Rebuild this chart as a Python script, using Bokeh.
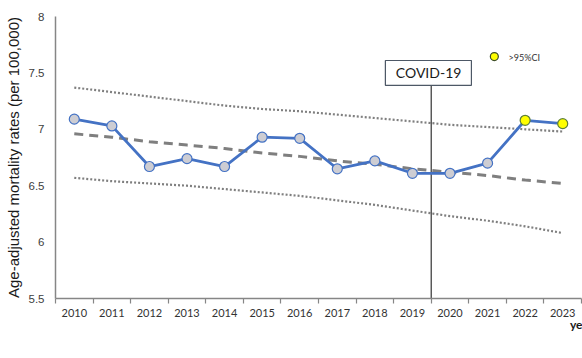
from bokeh.plotting import figure
from bokeh.models import FixedTicker, Legend, LegendItem, Range1d
from bokeh.core.properties import value
from bokeh.embed import file_html
from bokeh.resources import INLINE

# Age-adjusted mortality rate per year with a pre-pandemic trend and prediction band
years = [2010, 2011, 2012, 2013, 2014, 2015, 2016, 2017, 2018, 2019, 2020, 2021, 2022, 2023]
amr = [7.09, 7.03, 6.67, 6.74, 6.67, 6.93, 6.92, 6.65, 6.72, 6.61, 6.61, 6.70, 7.08, 7.05]
predicted = [6.96, 6.93, 6.89, 6.86, 6.83, 6.79, 6.76, 6.72, 6.69, 6.65, 6.62, 6.59, 6.55, 6.52]
upper = [7.37, 7.33, 7.29, 7.25, 7.21, 7.18, 7.16, 7.13, 7.10, 7.07, 7.04, 7.02, 7.00, 6.98]
lower = [6.57, 6.54, 6.52, 6.50, 6.47, 6.44, 6.41, 6.37, 6.33, 6.28, 6.23, 6.19, 6.14, 6.08]
above_ci = [False] * 12 + [True, True]

y_ticks = [5.5, 6, 6.5, 7, 7.5, 8]
y_tick_labels = ["5.5", "6", "6.5", "7", "7.5", "8"]

BLUE = "#4472C4"
GRAY = "#7f7f7f"
LABEL_FONT = "Lato"

p = figure(frame_width=526, frame_height=282, output_backend="svg", toolbar_location=None,
           x_range=Range1d(2009.5, 2023.5), y_range=Range1d(5.5, 8),
           min_border_left=55, min_border_right=1, min_border_top=16,
           min_border_bottom=0)
p.background_fill_color = "white"
p.border_fill_color = "white"
p.outline_line_color = None
p.xgrid.visible = False
p.ygrid.visible = False

# x axis: year labels at category centres, tick marks on category boundaries
p.xaxis.ticker = FixedTicker(ticks=years,
                             minor_ticks=[y - 0.5 for y in years] + [years[-1] + 0.5])
p.xaxis.axis_line_color = "#868686"
p.xaxis.axis_line_width = 1.5
p.xaxis.major_tick_out = 0
p.xaxis.major_tick_in = 0
p.xaxis.minor_tick_out = 5
p.xaxis.minor_tick_in = 0
p.xaxis.minor_tick_line_color = "#868686"
p.xaxis.minor_tick_line_width = 1.2
p.xaxis.major_label_standoff = 5
p.xaxis.major_label_text_font = LABEL_FONT
p.xaxis.major_label_text_font_size = "11px"
p.xaxis.major_label_text_color = "#333333"
p.xaxis.major_label_overrides = {y: str(y) for y in years}
p.xaxis.axis_label = "year"
p.xaxis.axis_label_align = "end"
p.xaxis.axis_label_text_align = "right"
p.xaxis.axis_label_standoff = -3
p.xaxis.axis_label_text_font = LABEL_FONT
p.xaxis.axis_label_text_font_size = "12px"
p.xaxis.axis_label_text_font_style = "bold"
p.xaxis.axis_label_text_color = "#1a1a1a"

# y axis
p.yaxis.ticker = FixedTicker(ticks=y_ticks)
p.yaxis.major_label_overrides = dict(zip(y_ticks, y_tick_labels))
p.yaxis.axis_line_color = "#868686"
p.yaxis.axis_line_width = 1.5
p.yaxis.major_tick_out = 0
p.yaxis.major_tick_in = 0
p.yaxis.minor_tick_line_color = None
p.yaxis.major_label_standoff = 11
p.yaxis.major_label_text_font = "Liberation Sans"
p.yaxis.major_label_text_font_size = "11.5px"
p.yaxis.major_label_text_color = "#404040"
p.yaxis.axis_label = "Age-adjusted mortality rates (per 100,000)"
p.yaxis.axis_label_text_font = "Liberation Sans"
p.yaxis.axis_label_text_font_size = "15px"
p.yaxis.axis_label_text_font_style = "normal"
p.yaxis.axis_label_text_color = "#1a1a1a"
p.yaxis.axis_label_standoff = 4

# prediction band and trend
up_r = p.line(years, upper, line_color=GRAY, line_width=2.2, line_dash="2 2")
p.line(years, lower, line_color=GRAY, line_width=2.2, line_dash="2 2")
pred_r = p.line(years, predicted, line_color=GRAY, line_width=3, line_dash="9 6")

# COVID-19 marker
p.segment(x0=[2019.5], y0=[5.5], x1=[2019.5], y1=[7.39], line_color="#333333", line_width=1.2)
p.quad(left=[2018.28], right=[2020.57], bottom=[7.39], top=[7.61],
       fill_color="white", line_color="#4d5866", line_width=1.2)
p.text(x=[2019.43], y=[7.50], text=["COVID-19"], text_align="center",
       text_baseline="middle", text_font=value(LABEL_FONT), text_font_size="14px",
       text_color="#1a1a1a")

# observed rates
amr_line = p.line(years, amr, line_color=BLUE, line_width=2.8)
norm_x = [y for y, f in zip(years, above_ci) if not f]
norm_y = [v for v, f in zip(amr, above_ci) if not f]
hi_x = [y for y, f in zip(years, above_ci) if f]
hi_y = [v for v, f in zip(amr, above_ci) if f]
amr_pts = p.scatter(norm_x, norm_y, size=10, fill_color="#cdcdd3",
                    line_color=BLUE, line_width=1.2)
p.scatter(hi_x, hi_y, size=10, fill_color="#ffff00", line_color="#5d7f3a", line_width=1.2)

# key for the highlighted points
p.scatter([2021.18], [7.645], size=8, fill_color="#ffff00", line_color="#3d4d2a",
          line_width=1.2)
p.text(x=[2021.56], y=[7.64], text=[">95%CI"], text_align="left", text_baseline="middle",
       text_font=value(LABEL_FONT), text_font_size="9px", text_color="#333333")

legend = Legend(items=[
    LegendItem(label="AMR", renderers=[amr_line, amr_pts]),
    LegendItem(label="predicted values", renderers=[pred_r]),
    LegendItem(label="95% upper and lower prediction interval", renderers=[up_r]),
], orientation="horizontal", location="top_left", glyph_width=32, glyph_height=12,
    label_height=12, label_standoff=3, spacing=36, padding=0, margin=0,
    border_line_color=None, background_fill_alpha=0, label_text_font=LABEL_FONT,
    label_text_font_size="12px", label_text_color="#595959")
p.add_layout(legend, "below")

open("out.html", "w").write(file_html(p, INLINE))
